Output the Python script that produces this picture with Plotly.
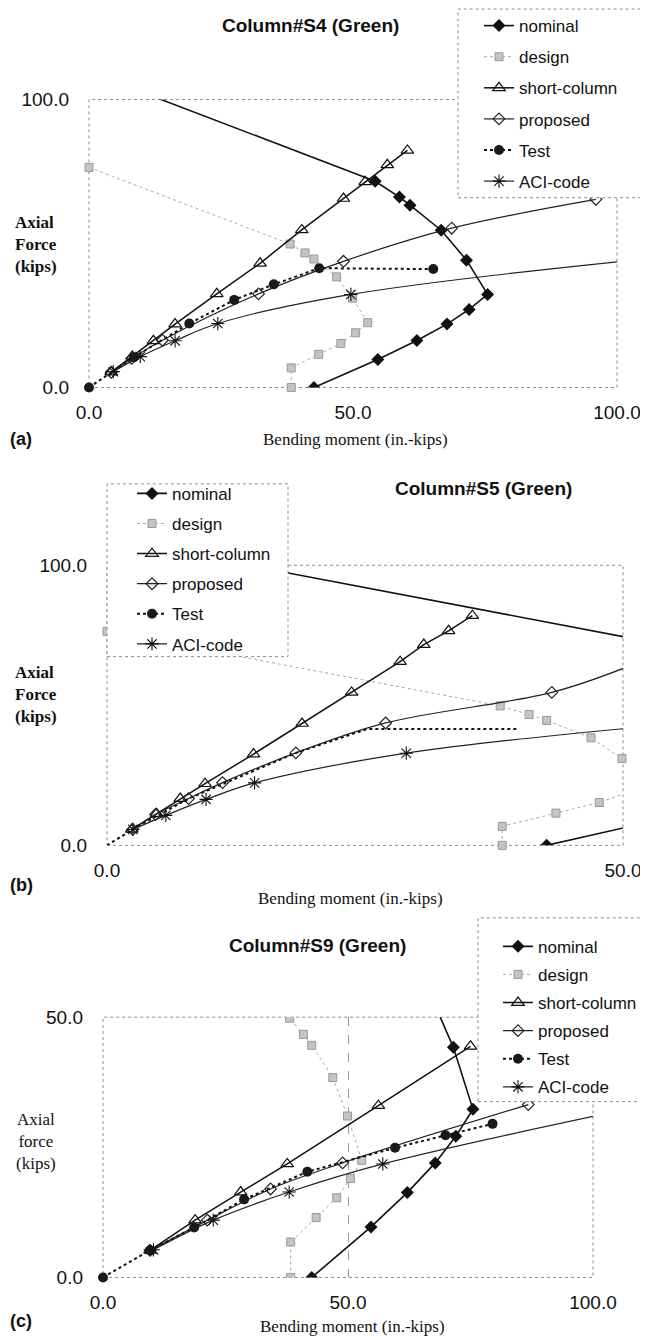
import plotly.graph_objects as go

# page has an 8px body margin, so the figure is 8px smaller than the window
W, H = 640, 1329
OFF = 8

# ---------------- data (bending moment in.-kips, axial force kips) ----------------
# nominal & design interaction curves (same section for all three columns)
nominal_m = [42.6, 54.7, 62.1, 67.8, 72.0, 75.5, 71.5, 66.7, 60.8, 58.8, 54.2, 11.9]
nominal_p = [0.0, 9.7, 16.3, 22.0, 27.1, 32.3, 44.2, 54.6, 63.3, 66.1, 71.6, 101.2]
design_m = [0.0, 38.1, 40.9, 42.6, 46.9, 49.9, 52.8, 50.5, 47.7, 43.5, 38.3, 38.3]
design_p = [76.4, 49.8, 46.7, 44.6, 38.4, 31.0, 22.5, 19.0, 15.3, 11.5, 6.8, 0.0]

# Column S4 (a)
sc_a_m = [4.2, 8.2, 12.2, 16.3, 24.2, 32.4, 40.3, 48.2, 52.3, 56.5, 60.3]
sc_a_p = [5.3, 10.8, 16.2, 22.0, 32.5, 43.1, 54.7, 65.6, 71.4, 77.3, 82.3]
prop_a_m = [4.2, 8.1, 13.9, 32.1, 48.2, 68.7, 96.0]
prop_a_p = [5.3, 10.1, 16.4, 32.5, 43.8, 55.3, 65.3]
test_a_m = [0.0, 8.5, 19.0, 27.5, 35.0, 43.6, 65.2]
test_a_p = [0.0, 10.5, 22.2, 30.4, 35.8, 41.4, 41.1]
aci_a_m = [4.6, 9.7, 16.3, 24.4, 49.6, 101.0]
aci_a_p = [5.5, 10.7, 16.2, 22.2, 32.3, 43.8]

# Column S5 (b)
sc_b_m = [2.4, 4.8, 7.1, 9.5, 14.2, 18.9, 23.7, 28.4, 30.7, 33.1, 35.4]
sc_b_p = [5.7, 11.3, 16.7, 22.0, 32.6, 43.5, 54.6, 65.6, 71.7, 76.6, 82.0]
prop_b_m = [2.5, 4.7, 7.9, 11.2, 18.3, 27.0, 43.1, 50.6]
prop_b_p = [5.7, 11.0, 16.7, 22.4, 33.0, 43.7, 54.6, 64.0]
test_b_m = [0.0, 2.5, 7.9, 18.3, 25.2, 39.8]
test_b_p = [0.0, 5.7, 16.7, 33.0, 41.5, 41.5]
aci_b_m = [2.5, 5.7, 9.6, 14.3, 29.0, 50.5]
aci_b_p = [5.7, 10.7, 16.4, 22.3, 32.9, 41.8]

# Column S9 (c)
sc_c_m = [9.6, 18.8, 28.1, 37.6, 56.2, 75.0]
sc_c_p = [5.2, 11.0, 16.4, 21.8, 33.0, 44.4]
prop_c_m = [9.6, 21.3, 34.2, 48.9, 86.8]
prop_c_p = [5.2, 11.0, 17.0, 22.0, 33.2]
test_c_m = [0.0, 9.6, 18.6, 28.8, 41.7, 59.6, 69.9, 79.5]
test_c_p = [0.0, 5.2, 9.6, 15.0, 20.3, 24.9, 27.3, 29.5]
aci_c_m = [10.3, 22.5, 38.0, 57.1, 101.4]
aci_c_p = [5.3, 11.0, 16.4, 21.8, 31.2]

series_names = ["nominal", "design", "short-column", "proposed", "Test", "ACI-code"]
titles = ["Column#S4 (Green)", "Column#S5 (Green)", "Column#S9 (Green)"]

SANS = "Liberation Sans, Arial, sans-serif"
SERIF = "Liberation Serif, Times New Roman, serif"


def px(x):
    return (x - OFF) / W


def py(y):
    return 1 - (y - OFF) / H


fig = go.Figure()

panels = [
    dict(xa="x", ya="y", leg="legend",
         data=[(nominal_m, nominal_p), (design_m, design_p), (sc_a_m, sc_a_p),
               (prop_a_m, prop_a_p), (test_a_m, test_a_p), (aci_a_m, aci_a_p)],
         test_markers=True, design_clip=False),
    dict(xa="x2", ya="y2", leg="legend2",
         data=[(nominal_m, nominal_p), (design_m, design_p), (sc_b_m, sc_b_p),
               (prop_b_m, prop_b_p), (test_b_m, test_b_p), (aci_b_m, aci_b_p)],
         test_markers=False, design_clip=False),
    dict(xa="x3", ya="y3", leg="legend3",
         data=[(nominal_m, nominal_p), (design_m, design_p), (sc_c_m, sc_c_p),
               (prop_c_m, prop_c_p), (test_c_m, test_c_p), (aci_c_m, aci_c_p)],
         test_markers=True, design_clip=True),
]

styles = {
    "nominal": dict(mode="lines+markers", line=dict(color="#111", width=1.6),
                    marker=dict(symbol="diamond", size=10, color="#111")),
    "design": dict(mode="lines+markers", line=dict(color="#a8a8a8", width=1, dash="dot"),
                   marker=dict(symbol="square", size=8, color="#c4c4c4",
                               line=dict(color="#999", width=1))),
    "short-column": dict(mode="lines+markers", line=dict(color="#111", width=1.5),
                         marker=dict(symbol="triangle-up-open", size=11, color="#111",
                                     line=dict(width=1.2))),
    "proposed": dict(mode="lines+markers", line=dict(color="#222", width=1.2, shape="spline"),
                     marker=dict(symbol="diamond-open", size=9, color="#222",
                                 line=dict(width=1.2))),
    "Test": dict(mode="lines+markers", line=dict(color="#111", width=2, dash="dot"),
                 marker=dict(symbol="circle", size=10, color="#1a1a1a")),
    "ACI-code": dict(mode="lines+markers", line=dict(color="#222", width=1.2, shape="spline"),
                     marker=dict(symbol="asterisk-open", size=11, color="#111",
                                 line=dict(width=1.1, color="#111"))),
}

for pi, p in enumerate(panels):
    for name, (xs, ys) in zip(series_names, p["data"]):
        st = styles[name]
        kw = dict(x=xs, y=ys, name=name, xaxis=p["xa"], yaxis=p["ya"],
                  legend=p["leg"], legendgroup=f"{name}{pi}",
                  mode=st["mode"], line=st["line"], marker=st["marker"])
        if name == "Test":
            kw["cliponaxis"] = False
            if not p["test_markers"]:
                kw["mode"] = "lines"
                kw["showlegend"] = False
                fig.add_trace(go.Scatter(**kw))
                # legend entry for Test
                fig.add_trace(go.Scatter(x=[None], y=[None], name=name, xaxis=p["xa"],
                                         yaxis=p["ya"], legend=p["leg"],
                                         legendgroup=f"{name}{pi}", mode="lines+markers",
                                         line=st["line"], marker=st["marker"]))
                continue
        if name == "design" and not p["design_clip"]:
            kw["cliponaxis"] = False
        fig.add_trace(go.Scatter(**kw))

tickfont = dict(family=SANS, size=19, color="#111")


def xaxis(dom, rng, vals, grid=False):
    return dict(domain=dom, range=rng, tickvals=vals, tickformat=".1f",
                showgrid=grid, gridcolor="#999", griddash="dash", gridwidth=1,
                zeroline=False, showline=False, ticks="", tickfont=tickfont,
                ticklabelstandoff=12, automargin=False, fixedrange=True)


def yaxis(dom, rng, vals, anchor):
    return dict(domain=dom, range=rng, tickvals=vals, tickformat=".1f",
                showgrid=False, zeroline=False, showline=False, ticks="",
                tickfont=tickfont, ticklabelstandoff=19, anchor=anchor,
                automargin=False, fixedrange=True)


fig.update_layout(
    width=W, height=H,
    margin=dict(l=0, r=0, t=0, b=0),
    paper_bgcolor="white", plot_bgcolor="white",
    xaxis=dict(**xaxis([px(89), px(617)], [0, 100], [0, 50, 100]), anchor="y"),
    yaxis=yaxis([py(381), py(91)], [0, 100], [0, 100], "x"),
    xaxis2=dict(**xaxis([px(107), px(623)], [0, 50], [0, 50]), anchor="y2"),
    yaxis2=yaxis([py(842), py(560)], [0, 100], [0, 100], "x2"),
    xaxis3=dict(**xaxis([px(103), px(593)], [0, 100], [0, 50, 100], grid=True), anchor="y3"),
    yaxis3=yaxis([py(1277), py(1015)], [0, 50], [0, 50], "x3"),
    showlegend=True,
)

legfont = dict(family=SANS, size=17, color="#111")
fig.update_layout(
    legend=dict(x=px(479), y=py(-1), xanchor="left", yanchor="top", font=legfont,
                bgcolor="rgba(0,0,0,0)", borderwidth=0, tracegroupgap=6,
                traceorder="grouped"),
    legend2=dict(x=px(132), y=py(470), xanchor="left", yanchor="top", font=legfont,
                 bgcolor="rgba(0,0,0,0)", borderwidth=0, tracegroupgap=5,
                 traceorder="grouped"),
    legend3=dict(x=px(498), y=py(926), xanchor="left", yanchor="top", font=legfont,
                 bgcolor="rgba(0,0,0,0)", borderwidth=0, tracegroupgap=3,
                 traceorder="grouped"),
)

shapes = []
for xa in ["x", "x2", "x3"]:
    ya = xa.replace("x", "y")
    shapes.append(dict(type="rect", xref=f"{xa} domain", yref=f"{ya} domain",
                       x0=0, x1=1, y0=0, y1=1, layer="below",
                       line=dict(color="#8c8c8c", width=1, dash="dot")))
# legend boxes (white, dashed border) covering the plot beneath
for (x0, x1, y0, y1) in [(458, 647, 0, 190), (107, 288, 478, 652), (478, 647, 915, 1100)]:
    shapes.append(dict(type="rect", xref="paper", yref="paper",
                       x0=px(x0), x1=px(x1), y0=py(y1), y1=py(y0), layer="above",
                       fillcolor="white",
                       line=dict(color="#8c8c8c", width=1, dash="dot")))
fig.update_layout(shapes=shapes)

ann = []
# titles
for t, (cx, cy) in zip(titles, [(310, 17), (483, 483), (317, 943)]):
    ann.append(dict(text=f"<b>{t}</b>", x=px(cx), y=py(cy), xref="paper", yref="paper",
                    showarrow=False, xanchor="center", yanchor="middle",
                    font=dict(family=SANS, size=19, color="#111")))
# y-axis titles
for txt, (lx, cy), bold in [("Axial<br>Force<br>(kips)", (13, 237), True),
                            ("Axial<br>Force<br>(kips)", (13, 690), True),
                            ("Axial<br>force<br>(kips)", (14, 1140), False)]:
    ann.append(dict(text=f"<b>{txt}</b>" if bold else txt, x=px(lx), y=py(cy),
                    xref="paper", yref="paper", showarrow=False, xanchor="left",
                    yanchor="middle", align="left" if bold else "center",
                    font=dict(family=SERIF, size=17, color="#111")))
# x-axis titles
for cy, cx in [(433, 355), (896, 350), (1326, 352)]:
    ann.append(dict(text="Bending moment (in.-kips)", x=px(cx), y=py(cy), xref="paper",
                    yref="paper", showarrow=False, xanchor="center", yanchor="middle",
                    font=dict(family=SERIF, size=17, color="#111")))
# panel labels
for lab, cy in [("(a)", 433), ("(b)", 882), ("(c)", 1321)]:
    ann.append(dict(text=f"<b>{lab}</b>", x=px(8), y=py(cy), xref="paper", yref="paper",
                    showarrow=False, xanchor="left", yanchor="middle",
                    font=dict(family=SANS, size=18, color="#111")))
fig.update_layout(annotations=ann)

fig.write_html("out.html")
